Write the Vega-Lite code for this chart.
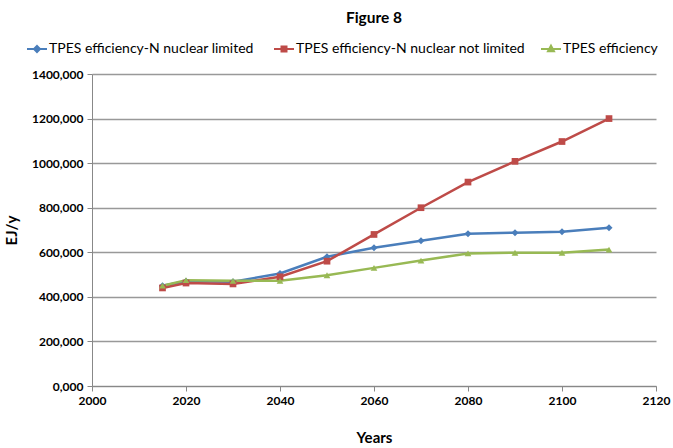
{
  "$schema": "https://vega.github.io/schema/vega-lite/v6.json",
  "width": 564,
  "height": 312,
  "autosize": {"type": "none"},
  "padding": {"left": 92, "top": 74, "right": 17, "bottom": 62},
  "background": "white",
  "title": {"text": "Figure 8", "font": "Lato", "fontSize": 15.5, "fontWeight": "bold", "color": "#000", "anchor": "middle", "offset": 12, "frame": "group"},
  "config": {"view": {"stroke": null}, "font": "Lato"},
  "data": {"values": [
    {"year": 2015, "series": "TPES efficiency-N nuclear  limited", "v": 450},
    {"year": 2020, "series": "TPES efficiency-N nuclear  limited", "v": 470},
    {"year": 2030, "series": "TPES efficiency-N nuclear  limited", "v": 468},
    {"year": 2040, "series": "TPES efficiency-N nuclear  limited", "v": 505},
    {"year": 2050, "series": "TPES efficiency-N nuclear  limited", "v": 580},
    {"year": 2060, "series": "TPES efficiency-N nuclear  limited", "v": 620},
    {"year": 2070, "series": "TPES efficiency-N nuclear  limited", "v": 652},
    {"year": 2080, "series": "TPES efficiency-N nuclear  limited", "v": 683},
    {"year": 2090, "series": "TPES efficiency-N nuclear  limited", "v": 688},
    {"year": 2100, "series": "TPES efficiency-N nuclear  limited", "v": 692},
    {"year": 2110, "series": "TPES efficiency-N nuclear  limited", "v": 710},
    {"year": 2015, "series": "TPES efficiency-N nuclear not limited", "v": 440},
    {"year": 2020, "series": "TPES efficiency-N nuclear not limited", "v": 462},
    {"year": 2030, "series": "TPES efficiency-N nuclear not limited", "v": 458},
    {"year": 2040, "series": "TPES efficiency-N nuclear not limited", "v": 490},
    {"year": 2050, "series": "TPES efficiency-N nuclear not limited", "v": 560},
    {"year": 2060, "series": "TPES efficiency-N nuclear not limited", "v": 680},
    {"year": 2070, "series": "TPES efficiency-N nuclear not limited", "v": 800},
    {"year": 2080, "series": "TPES efficiency-N nuclear not limited", "v": 915},
    {"year": 2090, "series": "TPES efficiency-N nuclear not limited", "v": 1008},
    {"year": 2100, "series": "TPES efficiency-N nuclear not limited", "v": 1097},
    {"year": 2110, "series": "TPES efficiency-N nuclear not limited", "v": 1200},
    {"year": 2015, "series": "TPES efficiency", "v": 450},
    {"year": 2020, "series": "TPES efficiency", "v": 475},
    {"year": 2030, "series": "TPES efficiency", "v": 472},
    {"year": 2040, "series": "TPES efficiency", "v": 472},
    {"year": 2050, "series": "TPES efficiency", "v": 497},
    {"year": 2060, "series": "TPES efficiency", "v": 530},
    {"year": 2070, "series": "TPES efficiency", "v": 563},
    {"year": 2080, "series": "TPES efficiency", "v": 595},
    {"year": 2090, "series": "TPES efficiency", "v": 598},
    {"year": 2100, "series": "TPES efficiency", "v": 598},
    {"year": 2110, "series": "TPES efficiency", "v": 612}
  ]},
  "encoding": {
    "x": {"field": "year", "type": "quantitative",
      "scale": {"domain": [2000, 2120], "nice": false, "zero": false},
      "axis": {"values": [2000, 2020, 2040, 2060, 2080, 2100, 2120], "format": "d", "grid": false, "labelFlush": false, "labelOverlap": false,
        "title": "Years", "titleFont": "Lato", "titleFontSize": 15, "titleFontWeight": "bold", "titleColor": "#000", "titlePadding": 24,
        "labelFont": "Lato", "labelFontSize": 12, "labelFontWeight": "bold", "labelColor": "#000", "labelPadding": 4,
        "domainColor": "#888", "tickColor": "#888", "tickSize": 5}},
    "y": {"field": "v", "type": "quantitative",
      "scale": {"domain": [0, 1400], "nice": false},
      "axis": {"values": [0, 200, 400, 600, 800, 1000, 1200, 1400], "labelFlush": false, "labelOverlap": false,
        "labelExpr": "replace(format(datum.value, '.3f'), '.', ',')",
        "title": "EJ/y", "titleFont": "Lato", "titleFontSize": 15, "titleFontWeight": "bold", "titleColor": "#000", "titlePadding": 12,
        "labelFont": "Lato", "labelFontSize": 12, "labelFontWeight": "bold", "labelColor": "#000", "labelPadding": 4,
        "domainColor": "#888", "tickColor": "#888", "tickSize": 5, "gridColor": "#999", "gridWidth": 1.3}},
    "color": {"field": "series", "type": "nominal",
      "sort": ["TPES efficiency-N nuclear  limited", "TPES efficiency-N nuclear not limited", "TPES efficiency"],
      "scale": {"domain": ["TPES efficiency-N nuclear  limited", "TPES efficiency-N nuclear not limited", "TPES efficiency"],
        "range": ["#4a7ebb", "#be4b48", "#98b954"]},
      "legend": {"orient": "none", "legendX": -66, "legendY": -36, "direction": "horizontal", "title": null,
        "labelFont": "Lato", "labelFontSize": 14, "labelColor": "#000",
        "symbolSize": 400, "columnPadding": 12, "labelOffset": 1, "labelLimit": 400,
        "encode": {"symbols": {"update": {
          "shape": {"signal": "datum.value === 'TPES efficiency' ? 'M-1,0L1,0M0,-0.33L0.3,0.22L-0.3,0.22Z' : (indexof(datum.value, 'not') >= 0 ? 'M-1,0L1,0M-0.25,-0.25L0.25,-0.25L0.25,0.25L-0.25,0.25Z' : 'M-1,0L1,0M0,-0.3L0.3,0L0,0.3L-0.3,0Z')"},
          "stroke": {"signal": "scale('color', datum.value)"},
          "fill": {"signal": "scale('color', datum.value)"},
          "strokeWidth": {"value": 2},
          "opacity": {"value": 1}
        }}}}}
  },
  "layer": [
    {"mark": {"type": "line", "strokeWidth": 2.5}},
    {"transform": [{"filter": "datum.series === 'TPES efficiency-N nuclear  limited'"}],
     "mark": {"type": "point", "shape": "diamond", "filled": true, "size": 50, "opacity": 1}},
    {"transform": [{"filter": "datum.series === 'TPES efficiency-N nuclear not limited'"}],
     "mark": {"type": "point", "shape": "square", "filled": true, "size": 45, "opacity": 1}},
    {"transform": [{"filter": "datum.series === 'TPES efficiency'"}],
     "mark": {"type": "point", "shape": "triangle-up", "filled": true, "size": 45, "opacity": 1}}
  ]
}
